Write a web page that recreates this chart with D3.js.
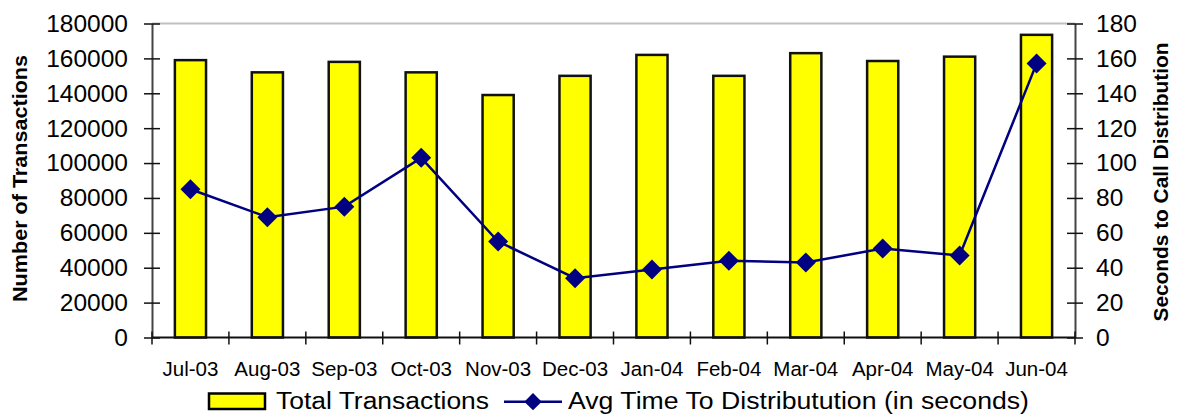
<!DOCTYPE html>
<html>
<head>
<meta charset="utf-8">
<script src="https://cdn.jsdelivr.net/npm/d3@7/dist/d3.min.js"></script>
<style>
  html, body { margin: 0; padding: 0; background: #fff; }
  svg { display: block; font-family: "Liberation Sans", Arial, Helvetica, sans-serif; }
</style>
</head>
<body>
<svg id="chart" width="1181" height="415"></svg>
<script>
// Monthly call-centre figures, Jul 2003 – Jun 2004
const months = ["Jul-03", "Aug-03", "Sep-03", "Oct-03", "Nov-03", "Dec-03",
                "Jan-04", "Feb-04", "Mar-04", "Apr-04", "May-04", "Jun-04"];
const totalTransactions = [159000, 152000, 158000, 152000, 139000, 150000,
                           162000, 150000, 163000, 158500, 161000, 173500];
const avgSeconds = [85, 69, 75, 103, 55, 34, 39, 44, 43, 51, 47, 157];
const leftTicks = [0, 20000, 40000, 60000, 80000, 100000, 120000, 140000, 160000, 180000];
const rightTicks = [0, 20, 40, 60, 80, 100, 120, 140, 160, 180];

const svg = d3.select("#chart");
const plot = { left: 152, right: 1075, top: 23.5, bottom: 337.5 };

const x = d3.scaleBand().domain(months).range([plot.left, plot.right]).padding(0);
const yL = d3.scaleLinear().domain([0, 180000]).range([plot.bottom, plot.top]);
const yR = d3.scaleLinear().domain([0, 180]).range([plot.bottom, plot.top]);

// top border of the plot area
svg.append("line")
  .attr("x1", plot.left).attr("x2", plot.right)
  .attr("y1", yL(180000)).attr("y2", yL(180000))
  .attr("stroke", "#c0c0c0").attr("stroke-width", 2);

// bars: total transactions
const barW = x.bandwidth() * 0.405;
svg.append("g").selectAll("rect")
  .data(months.map((m, i) => ({ m, v: totalTransactions[i] })))
  .join("rect")
  .attr("x", d => x(d.m) + x.bandwidth() / 2 - barW / 2)
  .attr("y", d => yL(d.v))
  .attr("width", barW)
  .attr("height", d => yL(0) - yL(d.v))
  .attr("fill", "#ffff00")
  .attr("stroke", "#111")
  .attr("stroke-width", 2.5);

// left axis
const axL = svg.append("g")
  .attr("transform", `translate(${plot.left},0)`)
  .call(d3.axisLeft(yL).tickValues(leftTicks).tickFormat(d3.format("d"))
        .tickSize(8).tickPadding(16).tickSizeOuter(0));
axL.select(".domain").attr("stroke", "#444").attr("stroke-width", 2);
axL.selectAll(".tick line").attr("x1", 8).attr("x2", -8).attr("stroke", "#111").attr("stroke-width", 1.5);
axL.selectAll(".tick text").attr("font-size", 24.5).attr("fill", "#000")
  .attr("font-family", "Liberation Sans, Arial, sans-serif");

// right axis
const axR = svg.append("g")
  .attr("transform", `translate(${plot.right},0)`)
  .call(d3.axisRight(yR).tickValues(rightTicks).tickFormat(d3.format("d"))
        .tickSize(8).tickPadding(13).tickSizeOuter(0));
axR.select(".domain").attr("stroke", "#444").attr("stroke-width", 2);
axR.selectAll(".tick line").attr("x1", -8).attr("x2", 8).attr("stroke", "#111").attr("stroke-width", 1.5);
axR.selectAll(".tick text").attr("font-size", 24.5).attr("fill", "#000")
  .attr("font-family", "Liberation Sans, Arial, sans-serif");

// category axis with ticks on band boundaries
const gx = svg.append("g");
gx.append("line")
  .attr("x1", plot.left).attr("x2", plot.right)
  .attr("y1", yL(0)).attr("y2", yL(0))
  .attr("stroke", "#111").attr("stroke-width", 2);
const boundaries = months.map(m => x(m)).concat([plot.right]);
gx.selectAll("line.tk").data(boundaries).join("line")
  .attr("class", "tk")
  .attr("x1", d => d).attr("x2", d => d)
  .attr("y1", yL(0) - 6).attr("y2", yL(0) + 7)
  .attr("stroke", "#111").attr("stroke-width", 1.5);
gx.selectAll("text").data(months).join("text")
  .attr("x", d => x(d) + x.bandwidth() / 2)
  .attr("y", 376)
  .attr("text-anchor", "middle")
  .attr("font-size", 20.5)
  .text(d => d);

// line: average time to distribution
const line = d3.line()
  .x((d, i) => x(months[i]) + x.bandwidth() / 2)
  .y(d => yR(d));
svg.append("path")
  .datum(avgSeconds)
  .attr("d", line)
  .attr("fill", "none")
  .attr("stroke", "#000080")
  .attr("stroke-width", 2.5);

const diamond = d3.symbol().type(d3.symbolSquare).size(200);
svg.append("g").selectAll("path")
  .data(avgSeconds)
  .join("path")
  .attr("d", diamond)
  .attr("transform", (d, i) => `translate(${x(months[i]) + x.bandwidth() / 2},${yR(d)}) rotate(45)`)
  .attr("fill", "#000080");

// axis titles
svg.append("text")
  .attr("transform", "translate(27,178.5) rotate(-90)")
  .attr("text-anchor", "middle")
  .attr("font-weight", "bold")
  .attr("font-size", 21)
  .attr("textLength", 247).attr("lengthAdjust", "spacingAndGlyphs")
  .text("Number of Transactions");

svg.append("text")
  .attr("transform", "translate(1168,182) rotate(-90)")
  .attr("text-anchor", "middle")
  .attr("font-weight", "bold")
  .attr("font-size", 21)
  .attr("textLength", 279).attr("lengthAdjust", "spacingAndGlyphs")
  .text("Seconds to Call Distribution");

// legend
const lg = svg.append("g");
lg.append("rect")
  .attr("x", 209).attr("y", 393.5).attr("width", 56).attr("height", 15.5)
  .attr("fill", "#ffff00").attr("stroke", "#000").attr("stroke-width", 2.5);
lg.append("text")
  .attr("x", 276).attr("y", 409)
  .attr("font-size", 23)
  .attr("textLength", 213).attr("lengthAdjust", "spacingAndGlyphs")
  .text("Total Transactions");
lg.append("line")
  .attr("x1", 504).attr("x2", 562).attr("y1", 401.7).attr("y2", 401.7)
  .attr("stroke", "#000080").attr("stroke-width", 2.5);
lg.append("path")
  .attr("d", d3.symbol().type(d3.symbolSquare).size(150))
  .attr("transform", "translate(533,401.7) rotate(45)")
  .attr("fill", "#000080");
lg.append("text")
  .attr("x", 568).attr("y", 409)
  .attr("font-size", 23)
  .attr("textLength", 461).attr("lengthAdjust", "spacingAndGlyphs")
  .text("Avg Time To Distributution (in seconds)");
</script>
</body>
</html>
